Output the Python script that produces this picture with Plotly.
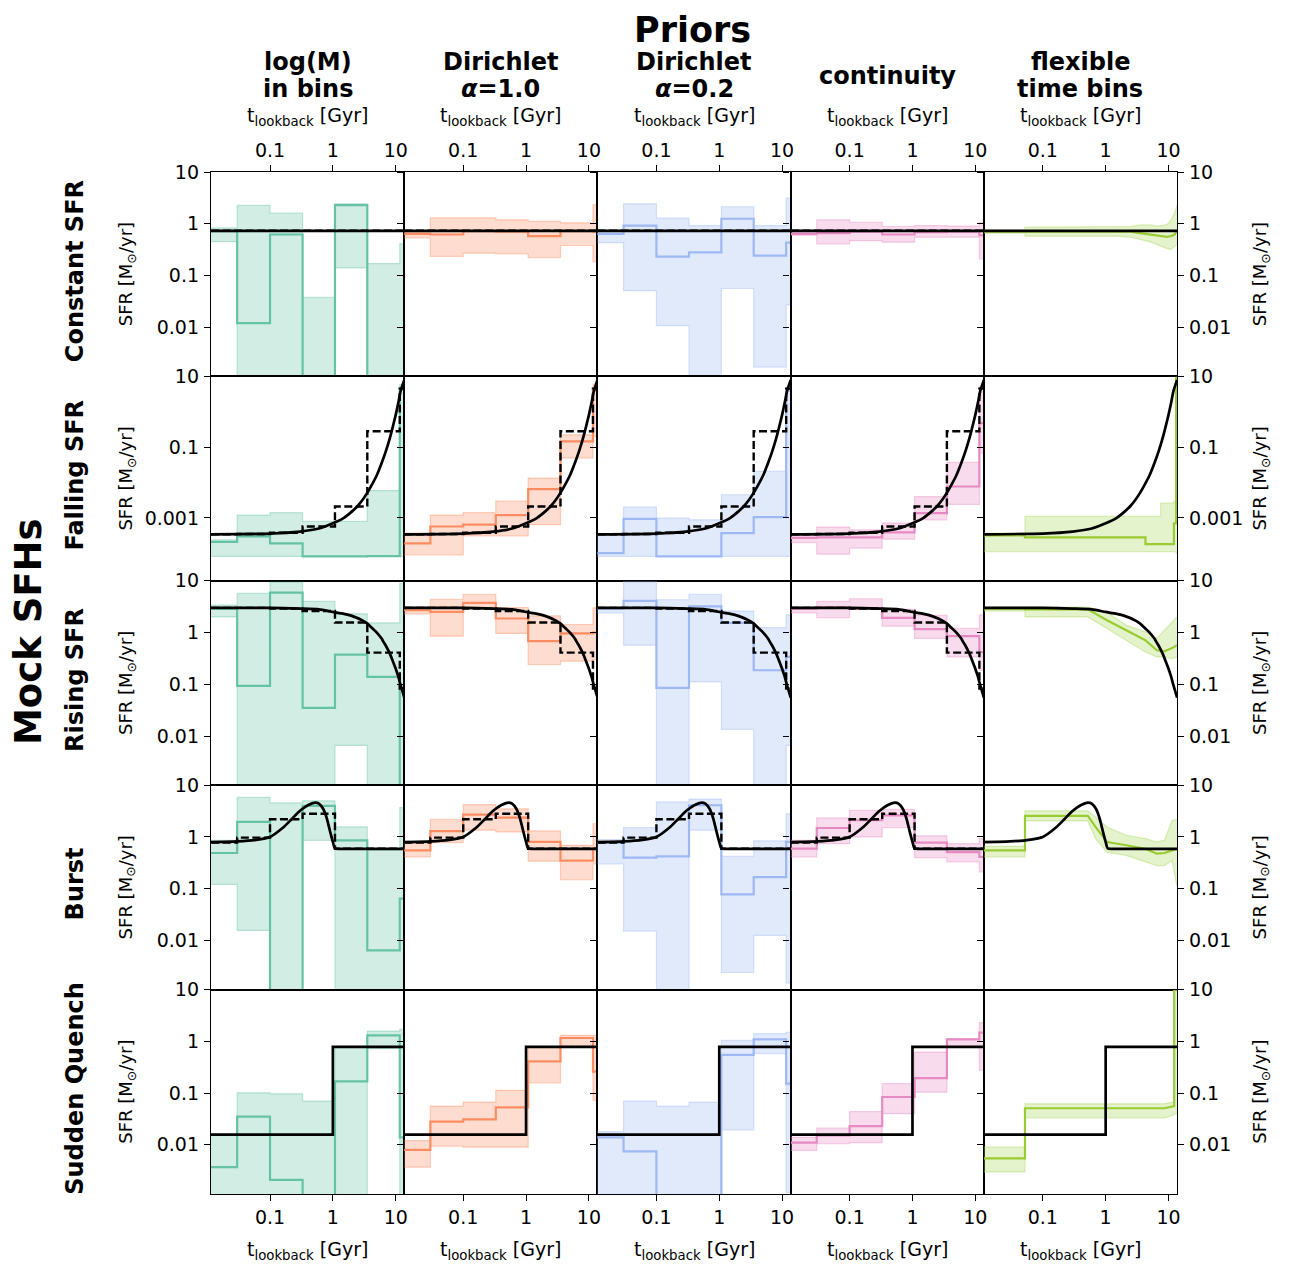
import plotly.graph_objects as go
from plotly.subplots import make_subplots

# ---------------- data ----------------
BIN_EDGES = [0.005, 0.03, 0.1, 0.33, 1.08, 3.53, 11.6, 13.7]   # Gyr, fixed bins (cols 1-4)
ROW_NAMES = ["Constant SFR", "Falling SFR", "Rising SFR", "Burst", "Sudden Quench"]
COL_TITLES = [["log(M)", "in bins"], ["Dirichlet", "<i>α</i>=1.0"], ["Dirichlet", "<i>α</i>=0.2"],
              ["continuity"], ["flexible", "time bins"]]
X_TICKS = [0.1, 1, 10]
X_TICKTEXT = ["0.1", "1", "10"]
Y_TICKS = [[0.01, 0.1, 1, 10], [0.001, 0.1, 10], [0.01, 0.1, 1, 10], [0.01, 0.1, 1, 10], [0.01, 0.1, 1, 10]]
Y_TICKTEXT = [["0.01", "0.1", "1", "10"], ["0.001", "0.1", "10"], ["0.01", "0.1", "1", "10"],
              ["0.01", "0.1", "1", "10"], ["0.01", "0.1", "1", "10"]]

# --- Constant SFR ---
CONST_TRUE_T = [0.005, 13.7]
CONST_TRUE_SFR = [0.73, 0.73]
CONST_BINNED = [0.73, 0.73, 0.73, 0.73, 0.73, 0.73, 0.73]
CONST_MED = [[0.72, 0.012, 0.62, 1e-4, 2.3, 1e-4, 1e-4],
             [0.64, 0.62, 0.72, 0.70, 0.575, 0.72, 0.70],
             [0.64, 0.92, 0.232, 0.28, 1.25, 0.243, 0.43],
             [0.64, 0.66, 0.70, 0.62, 0.69, 0.70, 0.60]]
CONST_LO = [[0.45, 1e-4, 1e-4, 1e-4, 0.14, 1e-4, 1e-4],
            [0.53, 0.235, 0.27, 0.26, 0.22, 0.38, 0.186],
            [0.43, 0.051, 0.0107, 1e-4, 0.056, 0.0017, 0.027],
            [0.60, 0.41, 0.47, 0.44, 0.55, 0.55, 0.21]]
CONST_HI = [[0.83, 2.26, 1.6, 0.038, 2.43, 0.17, 0.41],
            [0.69, 1.30, 1.30, 1.19, 1.11, 1.04, 2.33],
            [0.75, 2.43, 1.28, 0.92, 2.13, 0.92, 3.13],
            [0.76, 1.19, 1.07, 0.885, 0.92, 0.90, 1.07]]
CONST_FLEX_T = [0.005, 0.052, 0.052, 1.5, 2.5, 3.5, 5, 6.5, 8, 9.5, 11, 12.5, 13.7]
CONST_FLEX_MED = [0.70, 0.70, 0.72, 0.72, 0.70, 0.66, 0.62, 0.58, 0.57, 0.56, 0.58, 0.62, 0.72]
CONST_FLEX_LO = [0.66, 0.66, 0.575, 0.575, 0.55, 0.50, 0.45, 0.40, 0.36, 0.33, 0.32, 0.36, 0.40]
CONST_FLEX_HI = [0.76, 0.76, 0.86, 0.86, 0.88, 0.95, 0.95, 0.90, 0.92, 0.97, 1.2, 1.6, 2.3]

# --- Falling SFR ---
FALL_TRUE_T = [0.005, 0.1, 0.3, 0.6, 1.0, 1.5, 2.0, 2.5, 3.0, 3.5, 4.0, 5.0, 6.0, 7.0, 8.0, 9.0,
               10.0, 11.0, 12.0, 13.7]
FALL_TRUE_SFR = [3.4e-4, 3.6e-4, 4.1e-4, 5.0e-4, 7.0e-4, 1.0e-3, 1.5e-3, 2.2e-3, 3.3e-3, 5.0e-3,
                 7.5e-3, 1.6e-2, 3.6e-2, 7.8e-2, 0.17, 0.38, 0.82, 1.8, 3.9, 8.0]
FALL_BINNED = [3.4e-4, 3.5e-4, 3.8e-4, 5.7e-4, 2.1e-3, 0.28, 4.5]
FALL_MED = [[2.1e-4, 3.0e-4, 1.9e-4, 8.1e-5, 8.1e-5, 8.3e-5, 4.5],
            [1.9e-4, 5.7e-4, 6.4e-4, 1.2e-3, 6.5e-3, 0.145, 4.0],
            [1.0e-4, 9.4e-4, 8.1e-5, 8.1e-5, 3.7e-4, 1.05e-3, 4.0],
            [2.7e-4, 2.8e-4, 2.8e-4, 3.9e-4, 1.36e-3, 7.7e-3, 0.48]]
FALL_LO = [[8.1e-5, 8.1e-5, 8.1e-5, 8.1e-5, 8.1e-5, 8.1e-5, 8.1e-5],
           [9e-5, 9e-5, 3.1e-4, 3.1e-4, 6.4e-4, 0.049, 0.2],
           [8.1e-5, 8.1e-5, 8.1e-5, 8.1e-5, 8.1e-5, 8.1e-5, 8.1e-5],
           [2.0e-4, 9.4e-5, 1.4e-4, 2.5e-4, 8.8e-4, 2.4e-3, 0.068]]
FALL_HI = [[2.4e-4, 1.2e-3, 1.4e-3, 7.9e-4, 8.0e-4, 5.9e-3, 6.0],
           [3.7e-4, 1.2e-3, 1.4e-3, 3.0e-3, 0.0133, 0.223, 6.0],
           [3.5e-4, 2.0e-3, 9.8e-4, 8.8e-4, 4.5e-3, 0.0205, 5.0],
           [3.3e-4, 5.5e-4, 4.6e-4, 7.1e-4, 4.0e-3, 0.037, 5.2]]
FALL_FLEX_T = [0.005, 0.052, 0.052, 4.3, 4.3, 7.5, 7.5, 12.2, 12.2, 13.2, 13.2, 13.7]
FALL_FLEX_MED = [3.2e-4, 3.2e-4, 2.8e-4, 2.8e-4, 1.8e-4, 1.8e-4, 1.8e-4, 1.8e-4, 7e-4, 7e-4, 9.0, 9.0]
FALL_FLEX_LO = [1.1e-4, 1.1e-4, 1.1e-4, 1.1e-4, 1.1e-4, 1.1e-4, 1.1e-4, 1.1e-4, 1.1e-4, 1.1e-4, 1e-4, 1e-4]
FALL_FLEX_HI = [3.7e-4, 3.7e-4, 1.1e-3, 1.1e-3, 1.1e-3, 1.1e-3, 2.6e-3, 2.6e-3, 3.0e-3, 3.0e-3, 10, 10]

# --- Rising SFR ---
RISE_TRUE_T = [0.005, 0.1, 0.3, 0.6, 1.0, 1.5, 2.0, 3.0, 3.5, 4.0, 5.0, 6.0, 6.4, 7.0, 8.0, 9.0,
               10.0, 11.0, 12.0, 13.7]
RISE_TRUE_SFR = [3.0, 3.0, 2.9, 2.8, 2.5, 2.3, 2.1, 1.7, 1.5, 1.3, 1.0, 0.76, 0.66, 0.55, 0.40, 0.28,
                 0.20, 0.14, 0.095, 0.055]
RISE_BINNED = [3.0, 3.0, 2.9, 2.6, 1.56, 0.41, 0.083]
RISE_MED = [[2.9, 0.093, 5.9, 0.035, 0.375, 0.139, 1e-4],
            [2.7, 2.5, 3.75, 1.87, 0.68, 0.96, 1.0],
            [2.9, 4.1, 0.085, 3.2, 1.54, 0.187, 0.34],
            [2.9, 3.05, 2.9, 1.92, 1.16, 0.85, 0.42]]
RISE_LO = [[2.0, 1e-4, 1e-4, 1e-4, 6.6e-3, 1e-4, 1e-4],
           [2.3, 0.85, 2.9, 0.96, 0.24, 0.28, 0.3],
           [2.4, 0.57, 1e-4, 0.111, 0.0135, 1e-4, 0.0066],
           [2.4, 1.95, 2.8, 1.33, 0.77, 0.34, 0.187]]
RISE_HI = [[3.4, 5.7, 9.3, 4.0, 2.3, 1.54, 8.9],
           [3.1, 4.4, 5.5, 3.05, 2.1, 1.43, 3.0],
           [3.0, 9.5, 4.3, 5.5, 2.6, 1.25, 2.2],
           [3.1, 4.0, 4.5, 2.8, 2.16, 1.2, 2.2]]
RISE_FLEX_T = [0.005, 0.052, 0.052, 0.52, 1.05, 2.12, 4.28, 6.5, 8.6, 11.4, 13.7]
RISE_FLEX_MED = [2.9, 2.9, 2.8, 2.8, 1.73, 1.11, 0.71, 0.455, 0.435, 0.50, 0.57]
RISE_FLEX_LO = [2.6, 2.6, 2.0, 2.0, 1.2, 0.71, 0.42, 0.34, 0.34, 0.31, 0.34]
RISE_FLEX_HI = [3.1, 3.1, 3.1, 3.1, 2.5, 1.39, 1.03, 0.77, 1.11, 1.6, 2.0]

# --- Burst ---
BURST_TRUE_T = [0.005, 0.03, 0.06, 0.1, 0.16, 0.22, 0.3, 0.4, 0.52, 0.6, 0.7, 0.8, 0.9, 1.0, 1.08,
                1.3, 3.0, 13.7]
BURST_TRUE_SFR = [0.78, 0.82, 0.88, 1.0, 1.5, 2.2, 3.2, 4.1, 4.6, 4.4, 3.5, 2.3, 1.3, 0.8, 0.6,
                  0.59, 0.59, 0.59]
BURST_BINNED = [0.78, 0.97, 2.2, 2.8, 0.59, 0.59, 0.59]
BURST_MED = [[0.49, 1.95, 1e-4, 4.0, 0.86, 0.0064, 0.064],
             [0.55, 1.29, 2.7, 2.37, 0.8, 0.35, 0.6],
             [0.77, 0.40, 0.42, 4.1, 0.078, 0.168, 0.8],
             [0.595, 1.49, 2.1, 2.6, 0.78, 0.51, 0.41]]
BURST_LO = [[0.121, 0.0156, 1e-4, 0.86, 1e-4, 1e-4, 1e-4],
            [0.41, 0.78, 1.35, 1.25, 0.34, 0.149, 0.3],
            [0.30, 0.0152, 1e-4, 1.35, 0.0024, 0.0125, 0.0015],
            [0.41, 0.74, 1.0, 1.52, 0.40, 0.33, 0.21]]
BURST_HI = [[0.86, 5.8, 4.55, 5.0, 1.56, 0.55, 3.7],
            [0.77, 2.2, 4.2, 3.5, 1.31, 0.69, 1.8],
            [0.89, 1.52, 4.76, 5.4, 0.42, 0.84, 2.8],
            [0.86, 2.33, 3.28, 3.4, 1.05, 0.74, 0.93]]
BURST_FLEX_T = [0.005, 0.052, 0.052, 0.52, 0.69, 1.05, 2.12, 4.28, 6.5, 8.6, 11.4, 13.7]
BURST_FLEX_MED = [0.55, 0.55, 2.55, 2.55, 1.56, 0.8, 0.69, 0.59, 0.475, 0.49, 0.55, 0.59]
BURST_FLEX_LO = [0.41, 0.41, 2.04, 2.04, 0.93, 0.51, 0.44, 0.33, 0.28, 0.28, 0.35, 0.108]
BURST_FLEX_HI = [0.66, 0.66, 3.2, 3.2, 2.44, 1.56, 1.08, 0.93, 0.8, 0.86, 2.1, 2.16]

# --- Sudden Quench ---
QUENCH_TRUE_T = [0.005, 1.0, 1.0, 13.7]
QUENCH_TRUE_SFR = [0.0158, 0.0158, 0.78, 0.78]
QUENCH_MED = [[0.0037, 0.035, 0.0021, 1e-4, 0.168, 1.31, 0.014],
              [0.008, 0.028, 0.031, 0.053, 0.41, 1.16, 0.26],
              [0.014, 0.0075, 1e-4, 1e-4, 0.55, 1.09, 0.152],
              [0.011, 0.0152, 0.023, 0.084, 0.195, 1.09, 1.47]]
QUENCH_LO = [[1e-4, 1e-4, 1e-4, 1e-4, 1e-4, 0.72, 1e-4],
             [0.0037, 0.0094, 0.009, 0.009, 0.158, 0.81, 0.072],
             [1e-4, 1e-4, 1e-4, 1e-4, 0.0195, 0.58, 0.0012],
             [0.0078, 0.0105, 0.011, 0.04, 0.104, 0.78, 0.275]]
QUENCH_HI = [[0.016, 0.101, 0.097, 0.07, 0.8, 1.58, 1.7],
             [0.0121, 0.056, 0.067, 0.113, 0.78, 1.31, 1.31],
             [0.018, 0.07, 0.056, 0.067, 1.05, 1.41, 1.5],
             [0.014, 0.021, 0.044, 0.152, 0.62, 1.13, 2.3]]
QUENCH_FLEX_T = [0.005, 0.052, 0.052, 8.6, 12.3, 12.3, 13.7]
QUENCH_FLEX_MED = [0.0055, 0.0055, 0.051, 0.051, 0.056, 10, 10]
QUENCH_FLEX_LO = [0.003, 0.003, 0.033, 0.033, 0.038, 0.04, 0.04]
QUENCH_FLEX_HI = [0.009, 0.009, 0.062, 0.062, 0.068, 12, 12]

# ---------------- styling ----------------
LINE_COLORS = ["#66c2a5", "#fc8d62", "#9db8f3", "#e78ac3", "#99cc33"]
FILL_RGB = [(102, 194, 165), (252, 141, 98), (157, 184, 243), (231, 138, 195), (166, 216, 84)]
FONT = "DejaVu Sans"
OFF = 8                                   # page body margin
W, H = 1289 - OFF, 1266 - OFF
# plot area in page pixels
L, R, T, B = 211, 1177, 172, 1194
XR = [-1.939, 1.135]
YR = [[-2.95, 1.0], [-4.78, 1.0], [-2.95, 1.0], [-2.95, 1.0], [-2.95, 1.0]]

ROWS = [
    dict(tt=CONST_TRUE_T, ts=CONST_TRUE_SFR, binned=CONST_BINNED, med=CONST_MED, lo=CONST_LO, hi=CONST_HI,
         ft=CONST_FLEX_T, fm=CONST_FLEX_MED, fl=CONST_FLEX_LO, fh=CONST_FLEX_HI, smooth=False),
    dict(tt=FALL_TRUE_T, ts=FALL_TRUE_SFR, binned=FALL_BINNED, med=FALL_MED, lo=FALL_LO, hi=FALL_HI,
         ft=FALL_FLEX_T, fm=FALL_FLEX_MED, fl=FALL_FLEX_LO, fh=FALL_FLEX_HI, smooth=True),
    dict(tt=RISE_TRUE_T, ts=RISE_TRUE_SFR, binned=RISE_BINNED, med=RISE_MED, lo=RISE_LO, hi=RISE_HI,
         ft=RISE_FLEX_T, fm=RISE_FLEX_MED, fl=RISE_FLEX_LO, fh=RISE_FLEX_HI, smooth=True),
    dict(tt=BURST_TRUE_T, ts=BURST_TRUE_SFR, binned=BURST_BINNED, med=BURST_MED, lo=BURST_LO, hi=BURST_HI,
         ft=BURST_FLEX_T, fm=BURST_FLEX_MED, fl=BURST_FLEX_LO, fh=BURST_FLEX_HI, smooth=True),
    dict(tt=QUENCH_TRUE_T, ts=QUENCH_TRUE_SFR, binned=None, med=QUENCH_MED, lo=QUENCH_LO, hi=QUENCH_HI,
         ft=QUENCH_FLEX_T, fm=QUENCH_FLEX_MED, fl=QUENCH_FLEX_LO, fh=QUENCH_FLEX_HI, smooth=False),
]

fig = make_subplots(rows=5, cols=5, horizontal_spacing=0, vertical_spacing=0)


def stepped(vals):
    return list(vals) + [vals[-1]]


for r, row in enumerate(ROWS):
    for c in range(5):
        rgb = FILL_RGB[c]
        fill = "rgba(%d,%d,%d,0.30)" % rgb
        edge = "rgba(%d,%d,%d,0.40)" % rgb
        if c < 4:
            x = BIN_EDGES
            lo, hi, med = stepped(row["lo"][c]), stepped(row["hi"][c]), stepped(row["med"][c])
            shape = "hv"
        else:
            x = row["ft"]
            lo, hi, med = row["fl"], row["fh"], row["fm"]
            shape = "linear"
        fig.add_trace(go.Scatter(x=x, y=lo, mode="lines", line=dict(color=edge, width=1.2, shape=shape),
                                 showlegend=False, hoverinfo="skip"), row=r + 1, col=c + 1)
        fig.add_trace(go.Scatter(x=x, y=hi, mode="lines", line=dict(color=edge, width=1.2, shape=shape),
                                 fill="tonexty", fillcolor=fill, showlegend=False, hoverinfo="skip"),
                      row=r + 1, col=c + 1)
        fig.add_trace(go.Scatter(x=x, y=med, mode="lines", line=dict(color=LINE_COLORS[c], width=2.2, shape=shape),
                                 showlegend=False), row=r + 1, col=c + 1)
        if c < 4 and row["binned"] is not None:
            fig.add_trace(go.Scatter(x=BIN_EDGES, y=stepped(row["binned"]), mode="lines",
                                     line=dict(color="black", width=2.4, shape="hv", dash="8px,3.5px"),
                                     showlegend=False), row=r + 1, col=c + 1)
        tl = dict(color="black", width=2.7)
        if row["smooth"]:
            tl.update(shape="spline", smoothing=0.6)
        fig.add_trace(go.Scatter(x=row["tt"], y=row["ts"], mode="lines", line=tl, showlegend=False),
                      row=r + 1, col=c + 1)

        # axes
        xa = dict(type="log", range=XR, showgrid=False, zeroline=False, showline=True, linecolor="black",
                  linewidth=1.3, mirror=True, tickvals=X_TICKS, ticktext=X_TICKTEXT,
                  tickfont=dict(family=FONT, size=19, color="black"), tickcolor="black", ticklen=6,
                  tickwidth=1.3)
        if r == 0:
            xa.update(side="top", ticks="outside", showticklabels=True)
        elif r == 4:
            xa.update(side="bottom", ticks="outside", showticklabels=True)
        else:
            xa.update(ticks="", showticklabels=False)
        fig.update_xaxes(row=r + 1, col=c + 1, **xa)

        ya = dict(type="log", range=YR[r], showgrid=False, zeroline=False, showline=True, linecolor="black",
                  linewidth=1.3, tickvals=Y_TICKS[r], ticktext=Y_TICKTEXT[r], ticks="outside",
                  tickfont=dict(family=FONT, size=19, color="black"), tickcolor="black", ticklen=6,
                  tickwidth=1.3, ticklabelstandoff=1)
        if c == 0:
            ya.update(side="left", mirror=True, showticklabels=True)
        elif c == 4:
            ya.update(side="right", mirror="ticks", showticklabels=True)
        else:
            ya.update(side="left", mirror=True, showticklabels=False)
        fig.update_yaxes(row=r + 1, col=c + 1, **ya)


def px(xp):
    return (xp - L) / (R - L)


def py(yp):
    return (B - yp) / (B - T)


ann = []


def text(s, x, y, size, angle=0, bold=False, yanchor="middle"):
    ann.append(dict(text=("<b>%s</b>" % s) if bold else s, x=px(x), y=py(y), xref="paper", yref="paper",
                    showarrow=False, textangle=angle, xanchor="center", yanchor=yanchor,
                    font=dict(family=FONT, size=size, color="black")))


colw = (R - L) / 5
rowh = (B - T) / 5
text("Priors", (L + R) / 2 - 2, OFF, 35, bold=True, yanchor="top")
text("Mock SFHs", 28, 632, 37, angle=-90, bold=True)
for c in range(5):
    cx = L + colw * (c + 0.5)
    lines = COL_TITLES[c]
    if len(lines) == 2:
        text(lines[0], cx, 62, 24, bold=True)
        text(lines[1], cx, 89, 24, bold=True)
    else:
        text(lines[0], cx, 76, 24, bold=True)
    text("t<sub>lookback</sub> [Gyr]", cx, 117, 19)
    text("t<sub>lookback</sub> [Gyr]", cx, 1250, 19)
for r in range(5):
    cy = T + rowh * (r + 0.5)
    text(ROW_NAMES[r], 75, cy - 3, 24, angle=-90, bold=True)
    text("SFR [M<sub>⊙</sub>/yr]", 127, cy, 18, angle=-90)
    text("SFR [M<sub>⊙</sub>/yr]", 1261, cy, 18, angle=-90)

fig.update_layout(width=W, height=H,
                  margin=dict(l=L - OFF, r=W - (R - OFF), t=T - OFF, b=H - (B - OFF), pad=0),
                  paper_bgcolor="white", plot_bgcolor="white", annotations=ann,
                  font=dict(family=FONT, color="black"), showlegend=False)

fig.write_html("out.html")
